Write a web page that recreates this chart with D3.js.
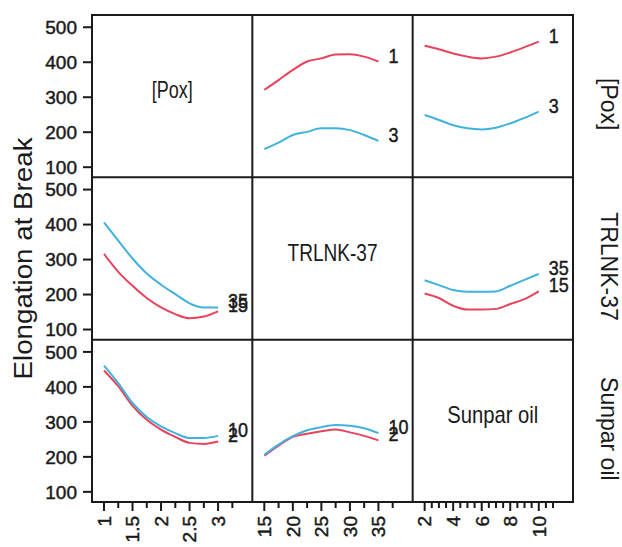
<!DOCTYPE html>
<html>
<head>
<meta charset="utf-8">
<script src="https://cdn.jsdelivr.net/npm/d3@7"></script>
<style>
  body { margin: 0; background: #fff; }
  svg { display: block; }
  text { font-family: "Liberation Sans", Arial, sans-serif; fill: #1a1a1a; }
  text.heavy { stroke: #1a1a1a; stroke-width: 0.45px; }
</style>
</head>
<body>
<svg id="chart" width="622" height="547"></svg>
<script>
// Factors of the interaction matrix (rows = trace factor, columns = x factor)
const factorNames = ["[Pox]", "TRLNK-37", "Sunpar oil"];
const factorLevels = [[1, 3], [15, 35], [2, 10]];

// Points along each x factor at which the fitted means are drawn
const poxGrid = [1, 1.25, 1.5, 1.75, 2, 2.25, 2.5, 2.75, 3];
const trlnkGrid = [15, 17.5, 20, 22.5, 25, 27.5, 30, 32.5, 35];
const sunparGrid = [2, 3, 4, 5, 6, 7, 8, 9, 10];

// Tick labels and tick marks of the bottom axes
const poxTickLabels = [1, 1.5, 2, 2.5, 3];
const trlnkTickLabels = [15, 20, 25, 30, 35];
const sunparTickLabels = [2, 4, 6, 8, 10];
const poxTickMarks = [1, 1.25, 1.5, 1.75, 2, 2.25, 2.5, 2.75, 3, 3.25];
const trlnkTickMarks = [15, 17.5, 20, 22.5, 25, 27.5, 30, 32.5, 35, 37.5];
const sunparTickMarks = [2, 2.5, 3, 3.5, 4, 4.5, 5, 5.5, 6, 6.5, 7, 7.5, 8, 8.5, 9, 9.5, 10, 10.5, 11];
const yTickLabels = [100, 200, 300, 400, 500];

// Mean Elongation at Break — [Pox] levels across TRLNK-37
const poxByTrlnk1 = [321, 349, 378, 402, 411, 422, 423, 416, 402];
const poxByTrlnk3 = [152, 170, 192, 201, 211, 211, 206, 192, 175];
// [Pox] levels across Sunpar oil
const poxBySunpar1 = [447, 437, 425, 416, 411, 416, 428, 443, 459];
const poxBySunpar3 = [249, 235, 220, 211, 208, 213, 225, 241, 259];
// TRLNK-37 levels across [Pox]
const trlnkByPox15 = [316, 265, 225, 190, 163, 144, 132, 137, 152];
const trlnkByPox35 = [406, 354, 303, 260, 228, 201, 175, 163, 163];
// TRLNK-37 levels across Sunpar oil
const trlnkBySunpar15 = [203, 190, 168, 157, 157, 159, 173, 187, 209];
const trlnkBySunpar35 = [241, 227, 213, 208, 208, 209, 225, 242, 259];
// Sunpar oil levels across [Pox]
const sunparByPox2 = [447, 402, 346, 306, 278, 257, 240, 237, 244];
const sunparByPox10 = [461, 411, 354, 314, 287, 268, 254, 254, 260];
// Sunpar oil levels across TRLNK-37
const sunparByTrlnk2 = [203, 232, 257, 266, 273, 278, 270, 260, 247];
const sunparByTrlnk10 = [206, 235, 259, 276, 285, 291, 289, 282, 268];

const grids = [poxGrid, trlnkGrid, sunparGrid];
const tickLabels = [poxTickLabels, trlnkTickLabels, sunparTickLabels];
const tickMarks = [poxTickMarks, trlnkTickMarks, sunparTickMarks];

// cells[row][col] = [low-level series, high-level series]
const cells = [
  [null, [poxByTrlnk1, poxByTrlnk3], [poxBySunpar1, poxBySunpar3]],
  [[trlnkByPox15, trlnkByPox35], null, [trlnkBySunpar15, trlnkBySunpar35]],
  [[sunparByPox2, sunparByPox10], [sunparByTrlnk2, sunparByTrlnk10], null]
];

const seriesColors = ["#e8435c", "#3fb2de"];

// Layout of the 3x3 panel grid
const gLeft = 92, gRight = 573, gTop = 15, gBottom = 502;
const cw = (gRight - gLeft) / 3, ch = (gBottom - gTop) / 3;
const svg = d3.select("#chart");

const xScales = grids.map((g, j) => {
  const lo = g[0], hi = g[g.length - 1], span = hi - lo;
  return d3.scaleLinear()
    .domain([lo - 0.105 * span, hi + 0.30 * span])
    .range([gLeft + j * cw, gLeft + (j + 1) * cw]);
});
const yScales = [0, 1, 2].map(i => d3.scaleLinear()
  .domain([71, 535])
  .range([gTop + (i + 1) * ch, gTop + i * ch]));

// Interaction traces
for (let i = 0; i < 3; i++) {
  for (let j = 0; j < 3; j++) {
    const pair = cells[i][j];
    if (!pair) continue;
    const x = xScales[j], y = yScales[i], g = grids[j];
    pair.forEach((vals, k) => {
      const pts = g.map((xv, n) => [xv, vals[n]]);
      svg.append("path")
        .attr("d", d3.line().x(d => x(d[0])).y(d => y(d[1])).curve(d3.curveMonotoneX)(pts))
        .attr("fill", "none")
        .attr("stroke", seriesColors[k])
        .attr("stroke-width", 2);
      const lab = String(factorLevels[i][k]);
      svg.append("text")
        .attr("class", "heavy")
        .attr("x", x(g[g.length - 1]) + 10)
        .attr("y", y(vals[vals.length - 1]) + 1)
        .attr("font-size", 21)
        .attr("textLength", lab.length * 10)
        .attr("lengthAdjust", "spacingAndGlyphs")
        .text(lab);
    });
  }
}

// Diagonal factor names
const diagWidths = [41, 90, 91];
factorNames.forEach((name, i) => {
  svg.append("text")
    .attr("x", gLeft + (i + 0.5) * cw)
    .attr("y", gTop + (i + 0.5) * ch + 2)
    .attr("text-anchor", "middle")
    .attr("font-size", 24)
    .attr("textLength", diagWidths[i])
    .attr("lengthAdjust", "spacingAndGlyphs")
    .text(name);
});

// Frame and dividers
const frame = svg.append("g").attr("stroke", "#1a1a1a").attr("stroke-width", 2).attr("fill", "none");
frame.append("rect").attr("x", gLeft).attr("y", gTop).attr("width", gRight - gLeft).attr("height", gBottom - gTop);
[1, 2].forEach(k => {
  frame.append("line").attr("x1", gLeft + k * cw).attr("x2", gLeft + k * cw).attr("y1", gTop).attr("y2", gBottom);
  frame.append("line").attr("y1", gTop + k * ch).attr("y2", gTop + k * ch).attr("x1", gLeft).attr("x2", gRight);
});

// Left y axes, one per row
yScales.forEach(y => {
  const g = svg.append("g");
  yTickLabels.forEach(v => {
    g.append("line").attr("x1", gLeft - 9).attr("x2", gLeft).attr("y1", y(v)).attr("y2", y(v))
      .attr("stroke", "#1a1a1a").attr("stroke-width", 2);
    g.append("text").attr("class", "heavy").attr("x", gLeft - 15).attr("y", y(v)).attr("dy", "0.36em")
      .attr("text-anchor", "end").attr("font-size", 19).text(v);
  });
});

// Bottom x axes, one per column
xScales.forEach((x, j) => {
  const g = svg.append("g");
  const labs = tickLabels[j];
  tickMarks[j].forEach(v => {
    const major = labs.includes(v);
    g.append("line").attr("x1", x(v)).attr("x2", x(v)).attr("y1", gBottom).attr("y2", gBottom + (major ? 9 : 6))
      .attr("stroke", "#1a1a1a").attr("stroke-width", 2);
  });
  labs.forEach(v => {
    g.append("text")
      .attr("class", "heavy")
      .attr("transform", `translate(${x(v)},${gBottom + 14}) rotate(-90)`)
      .attr("dy", "0.36em")
      .attr("text-anchor", "end")
      .attr("font-size", 19)
      .text(v);
  });
});

// Row titles on the right
factorNames.forEach((name, i) => {
  svg.append("text")
    .attr("transform", `translate(601,${gTop + (i + 0.5) * ch + 8}) rotate(90)`)
    .attr("text-anchor", "middle")
    .attr("font-size", 23)
    .text(name);
});

// Response title
svg.append("text")
  .attr("transform", `translate(32,${(gTop + gBottom) / 2}) rotate(-90)`)
  .attr("text-anchor", "middle")
  .attr("font-size", 26)
  .attr("textLength", 242)
  .attr("lengthAdjust", "spacingAndGlyphs")
  .text("Elongation at Break");
</script>
</body>
</html>
